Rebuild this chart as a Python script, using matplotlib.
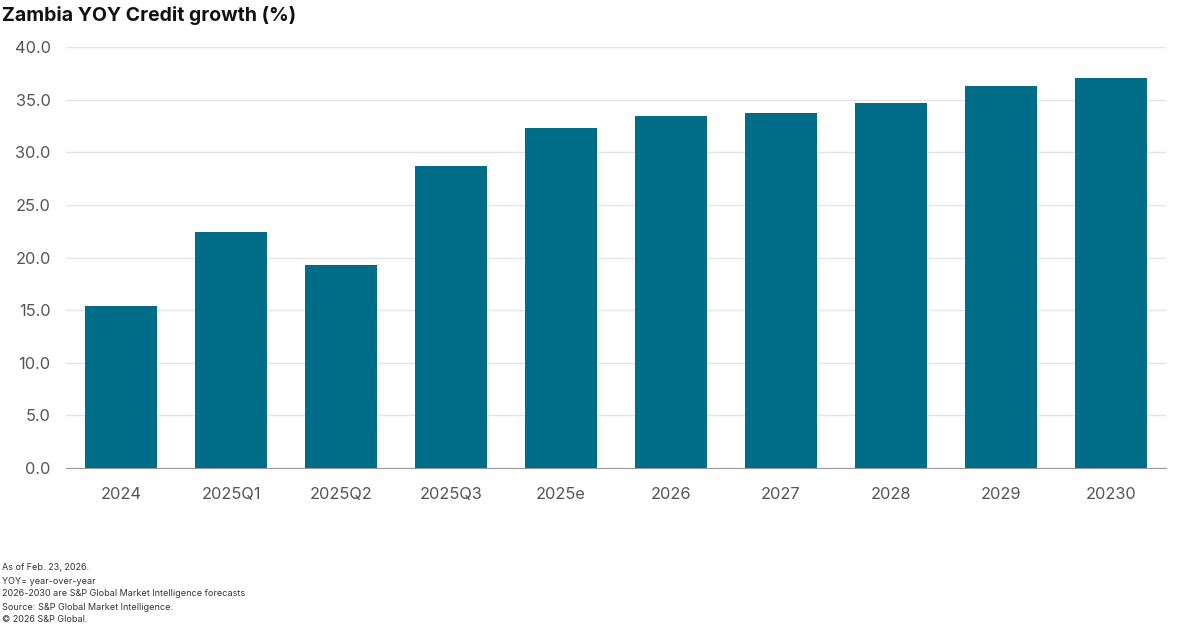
import matplotlib
matplotlib.use("Agg")
import matplotlib.pyplot as plt

categories = ["2024", "2025Q1", "2025Q2", "2025Q3", "2025e", "2026", "2027", "2028", "2029", "20230"]
values = [15.4, 22.4, 19.3, 28.7, 32.3, 33.4, 33.7, 34.7, 36.3, 37.1]
yticks = [0, 5, 10, 15, 20, 25, 30, 35, 40]
title = "Zambia YOY Credit growth (%)"
notes = [
    "As of Feb. 23, 2026.",
    "YOY= year-over-year",
    "2026-2030 are S&P Global Market Intelligence forecasts",
    "Source: S&P Global Market Intelligence.",
    "\u00a9 2026 S&P Global.",
]

plt.rcParams['font.family'] = ['Inter', 'DejaVu Sans']

fig = plt.figure(figsize=(12, 6.27), dpi=100)
ax = fig.add_axes([0.055, 0.2536, 0.9167, 0.6714])

x = list(range(len(categories)))
ax.bar(x, values, width=0.66, color="#006D88", zorder=3)
ax.set_xlim(-0.5, len(categories) - 0.5)
ax.set_ylim(0, 40)
ax.set_yticks(yticks)
ax.set_yticklabels([f"{t:.1f}" for t in yticks])
ax.set_xticks(x)
ax.set_xticklabels(categories)
ax.grid(axis="y", color="#e4e4e4", linewidth=1, zorder=0)
for s in ["top", "right", "left"]:
    ax.spines[s].set_visible(False)
ax.spines["bottom"].set_color("#9a9a9a")
ax.tick_params(axis="both", length=0, labelsize=11.8, colors="#555555")
ax.tick_params(axis="x", pad=14)
ax.tick_params(axis="y", pad=11)

fig.text(0.002, 0.975, title, fontsize=14.0, fontweight="bold", color="#111111", va="center", ha="left")
for i, line in enumerate(notes):
    fig.text(0.002, 1 - (568 + 13 * i) / 627, line, fontsize=6.5, color="#333333", va="center", ha="left")

fig.savefig("out.png", dpi=100)
